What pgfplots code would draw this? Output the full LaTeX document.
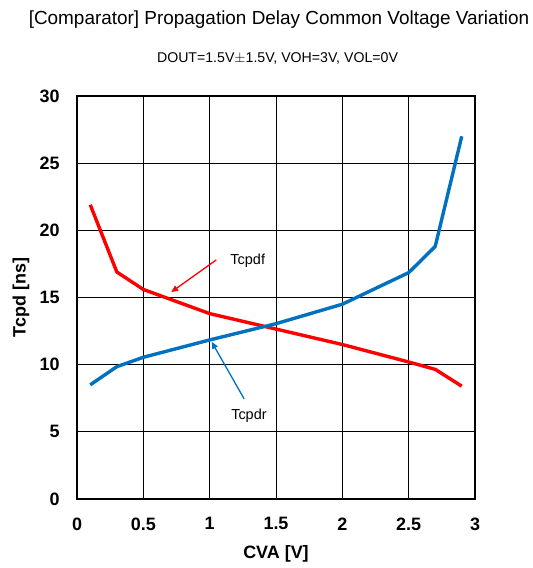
\documentclass[border=0pt]{standalone}
\usepackage{pgfplots}
\pgfplotsset{compat=1.18}
\usepackage{fontspec}
\setmainfont{Liberation Sans}
\usetikzlibrary{arrows.meta}
\definecolor{cblue}{RGB}{0,112,192}
\definecolor{cred}{RGB}{255,0,0}
\begin{document}
\begin{tikzpicture}[x=1bp,y=1bp]
\begin{axis}[
  at={(0,0)}, anchor=south west,
  scale only axis,
  width=398bp, height=403bp,
  xmin=0, xmax=3, ymin=0, ymax=30,
  xtick={0,0.5,...,3}, ytick={0,5,...,30},
  xticklabels={0,0.5,1,1.5,2,2.5,3},
  yticklabels={0,5,10,15,20,25,30},
  grid=major,
  major grid style={black, line width=0.9bp},
  axis line style={black, line width=1.8bp},
  tick style={draw=none},
  tick label style={font=\fontsize{18}{21}\selectfont\bfseries},
  xticklabel style={yshift=-15bp},
  yticklabel style={xshift=-14bp},
  xlabel={CVA [V]},
  ylabel={Tcpd [ns]},
  label style={font=\fontsize{18}{21}\selectfont\bfseries},
  xlabel style={at={(axis description cs:0.5,-0.1365)}, anchor=center},
  ylabel style={at={(axis description cs:-0.1407,0.5)}, anchor=center},
  clip=false,
]
\addplot[cred, line width=3.4bp, line join=round] coordinates {
  (0.1,21.9) (0.3,16.9) (0.5,15.6) (1.0,13.8) (1.5,12.65) (2.0,11.5) (2.5,10.2) (2.7,9.65) (2.9,8.4)
};
\addplot[cblue, line width=3.4bp, line join=round] coordinates {
  (0.1,8.5) (0.3,9.85) (0.5,10.55) (1.0,11.84) (1.5,13.05) (2.0,14.5) (2.5,16.85) (2.7,18.8) (2.9,27.0)
};
\draw[cred, line width=1.3bp, -{Triangle[length=7bp,width=6bp]}] (axis cs:1.05,17.8) -- (axis cs:0.71,15.4);
\node[font=\fontsize{14.5}{17}\selectfont] at (axis cs:1.287,17.74) {Tcpdf};
\draw[cblue, line width=1.3bp, -{Triangle[length=7bp,width=6bp]}] (axis cs:1.26,7.45) -- (axis cs:1.015,11.7);
\node[font=\fontsize{14.5}{17}\selectfont] at (axis cs:1.296,6.2) {Tcpdr};
\end{axis}
\node[font=\fontsize{19}{22}\selectfont] at (202,479) {[Comparator] Propagation Delay Common Voltage Variation};
\node[font=\fontsize{14.2}{17}\selectfont] at (200.5,441) {DOUT=1.5V\(\pm\)1.5V, VOH=3V, VOL=0V};
\path[use as bounding box] (-77,-69) rectangle (456,499);
\end{tikzpicture}
\end{document}
